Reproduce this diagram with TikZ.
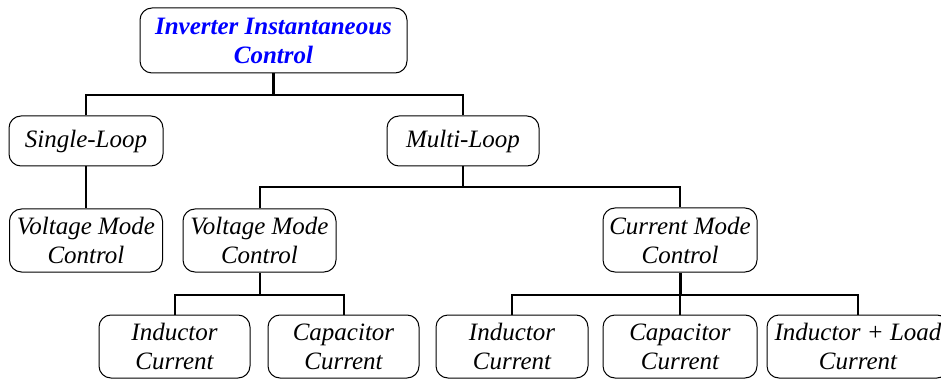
\documentclass[tikz,border=0pt]{standalone}
\usepackage{fontspec}
\setmainfont{Liberation Serif}[
  UprightFont={Liberation Serif},
  ItalicFont={Liberation Serif Italic},
  BoldFont={Liberation Serif Bold},
  BoldItalicFont={Liberation Serif Bold Italic}]
\begin{document}
\begin{tikzpicture}[x=1pt,y=-1pt,
  box/.style={draw, line width=1pt, rounded corners=12pt, align=center, inner sep=0pt,
    font=\fontsize{25}{29}\selectfont\itshape},
  conn/.style={line width=2pt},
  stem/.style={line width=3pt}]
\path[use as bounding box, clip] (0,0) rectangle (941,379);

% root
\node[box, minimum width=267pt, minimum height=65pt, text=blue,
  font=\fontsize{25}{29}\selectfont\bfseries\itshape]
  (root) at (273.5,40.5) {Inverter Instantaneous\\Control};

% second level
\node[box, minimum width=154pt, minimum height=50pt] (single) at (86,141) {Single-Loop};
\node[box, minimum width=152pt, minimum height=50pt] (multi) at (463,141) {Multi-Loop};

% third level
\node[box, minimum width=153pt, minimum height=63pt] (vmcA) at (86,240.5) {Voltage Mode\\Control};
\node[box, minimum width=153pt, minimum height=63pt] (vmcB) at (259.5,240.5) {Voltage Mode\\Control};
\node[box, minimum width=154pt, minimum height=64pt] (cmc) at (680,240) {Current Mode\\Control};

% fourth level
\node[box, minimum width=151pt, minimum height=63pt] (vIL) at (174.5,346.5) {Inductor\\Current};
\node[box, minimum width=151pt, minimum height=63pt] (vIC) at (343.5,346.5) {Capacitor\\Current};
\node[box, minimum width=152pt, minimum height=63pt] (cIL) at (512,346.5) {Inductor\\Current};
\node[box, minimum width=154pt, minimum height=63pt] (cIC) at (680,346.5) {Capacitor\\Current};
\node[box, minimum width=182pt, minimum height=63pt] (cILL) at (858,346.5) {Inductor + Load\\Current};

% bus junctions
\coordinate (j1) at (273.5,95);
\coordinate (j2) at (463,187);
\coordinate (j3) at (259.5,295);
\coordinate (j4) at (680,295);

% connectors
\draw[stem] (root.south) -- (j1);
\draw[conn] (single.north) |- (j1) -| (multi.north);
\draw[conn] (single.south) -- (vmcA.north);
\draw[conn] (multi.south) -- (j2);
\draw[conn] (vmcB.north) |- (j2) -| (cmc.north);
\draw[conn] (vmcB.south) -- (j3);
\draw[conn] (vIL.north) |- (j3) -| (vIC.north);
\draw[stem] (cmc.south) -- (j4);
\draw[conn] (cIL.north) |- (j4) -| (cILL.north);
\draw[conn] (j4) -- (cIC.north);
\end{tikzpicture}
\end{document}
